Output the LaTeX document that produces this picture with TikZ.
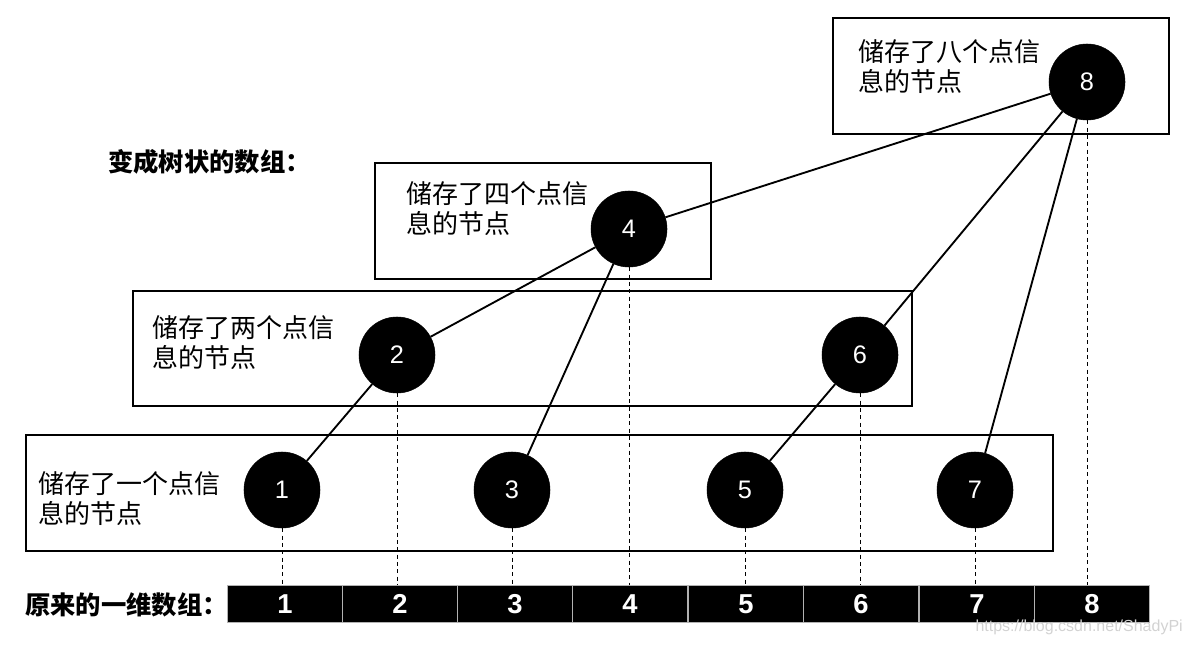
\documentclass[tikz,border=0pt]{standalone}
\usepackage{fontspec}
\setmainfont{Liberation Sans}
\newfontfamily\cjk{Noto Sans CJK SC}
\begin{document}
\begin{tikzpicture}[x=0.75pt,y=-0.75pt,
  tnode/.style={circle,fill=black,draw=black,minimum size=57pt,inner sep=0pt,text=white,font=\fontsize{19}{19}\selectfont},
  cell/.style={rectangle,fill=black,draw=gray!60,line width=0.8pt,minimum width=86.25pt,minimum height=27.75pt,inner sep=0pt,text=white,font=\fontsize{20.5}{20.5}\selectfont\bfseries},
  levelbox/.style={draw=black,line width=0.8pt},
  desc/.style={anchor=west,inner sep=0pt,align=left,font=\cjk\fontsize{19.5}{22.5}\selectfont},
  title/.style={anchor=west,inner sep=0pt,font=\cjk\bfseries\fontsize{19}{19}\selectfont},
  edge/.style={line width=1.4pt},
  guide/.style={dashed,line width=0.6pt,dash pattern=on 3pt off 2.5pt}]
\useasboundingbox (0,0) rectangle (1185,645);
% level boxes
\draw[levelbox] (26,435) rectangle (1053,551);
\draw[levelbox] (133,291) rectangle (912,406);
\draw[levelbox] (375,163) rectangle (711,279);
\draw[levelbox] (833,18) rectangle (1169,134);
% descriptions
\node[desc] (d1) at (38,499) {储存了一个点信\\息的节点};
\node[desc] (d2) at (152,343) {储存了两个点信\\息的节点};
\node[desc] (d4) at (406,208.5) {储存了四个点信\\息的节点};
\node[desc] (d8) at (858,67) {储存了八个点信\\息的节点};
% titles
\node[title] (t1) at (108,162) {变成树状的数组：};
\node[title] (t2) at (25,605) {原来的一维数组：};
% array cells
\node[cell] (c1) at (285,604) {1};
\node[cell] (c2) at (400,604) {2};
\node[cell] (c3) at (515,604) {3};
\node[cell] (c4) at (630,604) {4};
\node[cell] (c5) at (746,604) {5};
\node[cell] (c6) at (861,604) {6};
\node[cell] (c7) at (977,604) {7};
\node[cell] (c8) at (1092,604) {8};
% tree nodes
\node[tnode] (n1) at (282,490) {1};
\node[tnode] (n3) at (512,490) {3};
\node[tnode] (n5) at (745,490) {5};
\node[tnode] (n7) at (975,490) {7};
\node[tnode] (n2) at (397,355) {2};
\node[tnode] (n6) at (860,355) {6};
\node[tnode] (n4) at (629,229) {4};
\node[tnode] (n8) at (1087,82) {8};
% guides
\foreach \i in {1,...,8}{
  \draw[guide] (n\i.south) -- (n\i.south |- c\i.north);
}
% edges
\draw[edge] (n1) -- (n2);
\draw[edge] (n3) -- (n4);
\draw[edge] (n2) -- (n4);
\draw[edge] (n4) -- (n8);
\draw[edge] (n5) -- (n6);
\draw[edge] (n6) -- (n8);
\draw[edge] (n7) -- (n8);
% watermark
\node[anchor=east,inner sep=0pt,text=gray!35,font=\fontsize{12}{12}\selectfont] (wm) at (1183,627) {https://blog.csdn.net/ShadyPi};
\end{tikzpicture}
\end{document}
